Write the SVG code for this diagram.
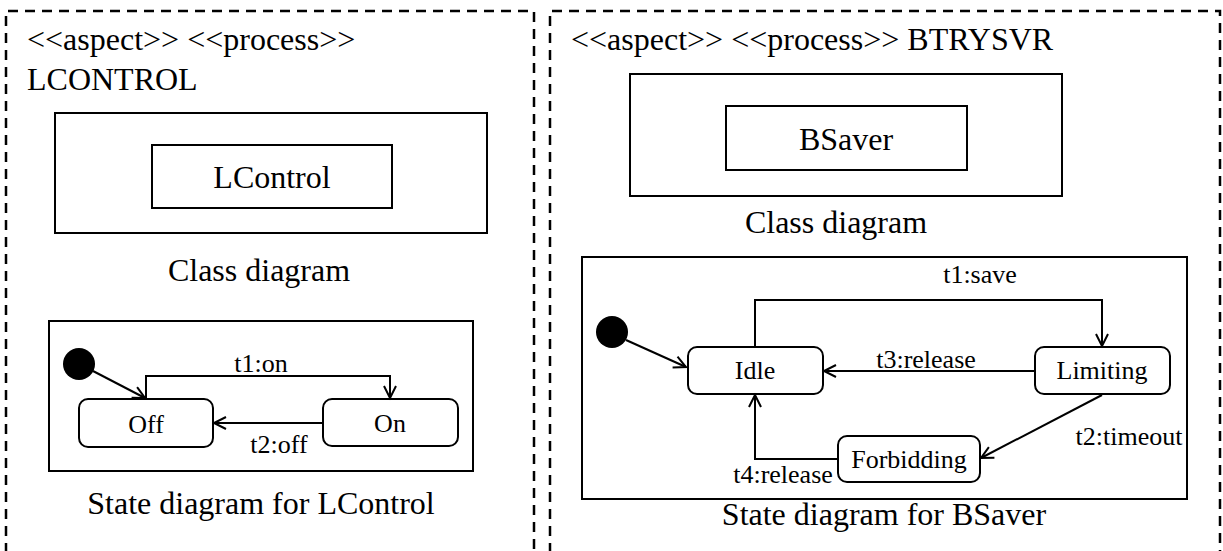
<svg xmlns="http://www.w3.org/2000/svg" width="1223" height="551" viewBox="0 0 1223 551">
<defs>
<marker id="open" markerUnits="userSpaceOnUse" markerWidth="16" markerHeight="16" refX="13" refY="7" orient="auto">
<path d="M1,1 L13,7 L1,13" fill="none" stroke="#000" stroke-width="2"/>
</marker>
<style>
text{font-family:'Liberation Serif','DejaVu Serif','Times New Roman',serif;fill:#000}
.big{font-size:32px}
.st{font-size:26px}
.box{fill:#fff;stroke:#000;stroke-width:2}
.dash{fill:none;stroke:#000;stroke-width:2.5;stroke-dasharray:10 7}
.c{fill:none;stroke:#000;stroke-width:2}
</style>
</defs>
<rect width="1223" height="551" fill="#fff"/>
<g id="panel-lcontrol">
<path class="dash" d="M6,570 V11 H534 V570"/>
<text class="big" x="27" y="50">&lt;&lt;aspect&gt;&gt; &lt;&lt;process&gt;&gt;</text>
<text class="big" x="27" y="90">LCONTROL</text>
</g>
<g id="panel-btrysvr">
<path class="dash" d="M550,570 V11 H1220 V570"/>
<text class="big" x="571" y="50">&lt;&lt;aspect&gt;&gt; &lt;&lt;process&gt;&gt; BTRYSVR</text>
</g>
<g id="class-diagram-l">
<rect class="box" x="55" y="113" width="432" height="120"/>
<text class="big" x="259" y="281" text-anchor="middle">Class diagram</text>
</g>
<g id="class-lcontrol">
<rect class="box" x="152" y="145" width="240" height="63"/>
<text class="big" x="272" y="188" text-anchor="middle">LControl</text>
</g>
<g id="state-diagram-l">
<rect class="box" x="49" y="321" width="424" height="150"/>
<text class="big" x="261" y="514" text-anchor="middle">State diagram for LControl</text>
</g>
<g id="init-l"><circle cx="79" cy="364" r="16" fill="#000"/></g>
<g id="state-off">
<rect class="box" x="79" y="399" width="134" height="48" rx="9"/>
<text class="st" x="146" y="433" text-anchor="middle">Off</text>
</g>
<g id="state-on">
<rect class="box" x="323" y="399" width="135" height="47" rx="9"/>
<text class="st" x="390" y="432" text-anchor="middle">On</text>
</g>
<g id="class-diagram-r">
<rect class="box" x="630" y="74" width="432" height="122"/>
<text class="big" x="836" y="233" text-anchor="middle">Class diagram</text>
</g>
<g id="class-bsaver">
<rect class="box" x="726" y="106" width="241" height="64"/>
<text class="big" x="846" y="150" text-anchor="middle">BSaver</text>
</g>
<g id="state-diagram-r">
<rect class="box" x="582" y="257" width="605" height="242"/>
<text class="big" x="884" y="525" text-anchor="middle">State diagram for BSaver</text>
</g>
<g id="init-r"><circle cx="612" cy="332" r="16" fill="#000"/></g>
<g id="state-idle">
<rect class="box" x="688" y="347" width="135" height="47" rx="9"/>
<text class="st" x="755" y="379" text-anchor="middle">Idle</text>
</g>
<g id="state-limiting">
<rect class="box" x="1035" y="347" width="135" height="47" rx="9"/>
<text class="st" x="1102" y="379" text-anchor="middle">Limiting</text>
</g>
<g id="state-forbidding">
<rect class="box" x="838" y="436" width="142" height="46" rx="9"/>
<text class="st" x="909" y="468" text-anchor="middle">Forbidding</text>
</g>
<g id="connectors">
<path class="c" d="M93,371 L145,398" marker-end="url(#open)"/>
<path class="c" d="M146,399 V376 H390 V398" marker-end="url(#open)"/>
<text class="st" x="261" y="372" text-anchor="middle">t1:on</text>
<path class="c" d="M323,423 H214" marker-end="url(#open)"/>
<text class="st" x="279" y="453" text-anchor="middle">t2:off</text>
<path class="c" d="M626,340 L686,367" marker-end="url(#open)"/>
<path class="c" d="M755,347 V300 H1102 V346" marker-end="url(#open)"/>
<text class="st" x="980" y="283" text-anchor="middle">t1:save</text>
<path class="c" d="M1035,371 H824" marker-end="url(#open)"/>
<text class="st" x="926" y="368" text-anchor="middle">t3:release</text>
<path class="c" d="M1102,395 L981,458" marker-end="url(#open)"/>
<text class="st" x="1129" y="445" text-anchor="middle">t2:timeout</text>
<path class="c" d="M838,459 H755 V395" marker-end="url(#open)"/>
<text class="st" x="783" y="483" text-anchor="middle">t4:release</text>
</g>
</svg>
